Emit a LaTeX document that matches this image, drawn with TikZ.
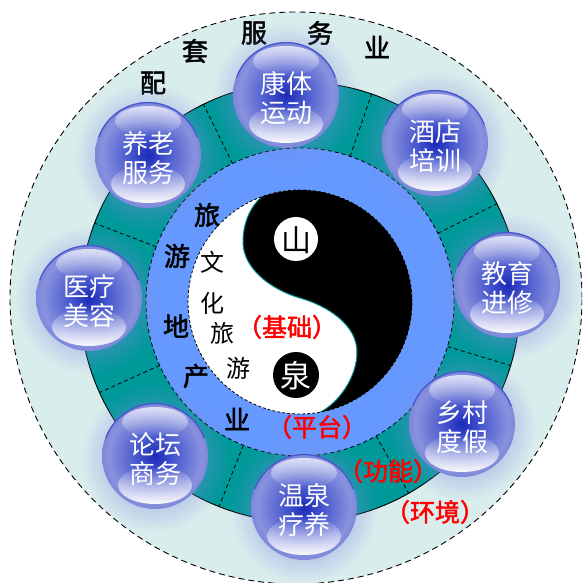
\documentclass[tikz,border=0pt]{standalone}
\usepackage{fontspec}
\newfontfamily\cjk{Noto Sans CJK SC}
\newfontfamily\cjkb[FakeBold=2]{Noto Sans CJK SC}
\usetikzlibrary{fadings,calc}
\definecolor{lightbg}{HTML}{DAEDED}
\definecolor{tealring}{HTML}{009999}
\definecolor{bluering}{HTML}{6699FF}
\definecolor{bubdark}{HTML}{1B2AB8}
\definecolor{bubmid}{HTML}{4858CE}
\definecolor{bublight}{HTML}{8892DE}
\definecolor{glowc}{HTML}{7F8CE0}
\definecolor{sline}{HTML}{008B8B}
\definecolor{rimc}{HTML}{2C3CC8}
\pgfdeclareradialshading{bubshade}{\pgfpointorigin}{color(0bp)=(bubdark); color(9bp)=(bubmid); color(22bp)=(bublight); color(25bp)=(bublight!90!bubdark); color(50bp)=(bublight)}
\tikzfading[name=glowfade, inner color=transparent!0, outer color=transparent!100]
\tikzfading[name=hltop, top color=transparent!10, bottom color=transparent!100]
\tikzfading[name=hlbot, top color=transparent!100, bottom color=transparent!0]
\tikzset{
  bubtext/.style={text=white, align=center, inner sep=0pt, font=\cjk\fontsize{26}{29}\selectfont},
  ringword/.style={inner sep=0pt, font=\cjkb\fontsize{26}{28}\selectfont},
  songword/.style={inner sep=0pt, font=\cjk\fontsize{24}{26}\selectfont},
  redword/.style={inner sep=0pt, text=red, font=\cjkb\fontsize{25}{27}\selectfont},
  sepline/.style={dash pattern=on 4pt off 3pt, line width=0.8pt},
}
\newcommand\bub[4]{%
  \begin{scope}[shift={(#2)}]
    \fill[glowc, path fading=glowfade] (0,-2) circle (74);
    \shade[shading=bubshade] (0,0) circle (53);
    \draw[rimc, line width=1.2pt, opacity=0.7] (20:52.4) arc[start angle=20, end angle=160, radius=52.4];
    \fill[white, opacity=0.8, path fading=hltop] (0,34) ellipse (33 and 15);
    \fill[white, opacity=0.95, path fading=hlbot] (0,-29) ellipse (37 and 19);
    \node[bubtext] (#1) at (0,-3) {#3\\#4};
  \end{scope}%
}
\begin{document}
\begin{tikzpicture}[x=1pt,y=1pt]
\useasboundingbox (0,0) rectangle (582,583);
\clip (0,0) rectangle (582,583);
\coordinate (C) at (300,281);
\coordinate (O) at (296,285);
% outer light ring
\fill[lightbg] (O) circle (286);
\draw[dash pattern=on 6pt off 4pt, line width=0.9pt] (O) circle (286);
% teal ring
\fill[tealring] (C) circle (220);
\draw[line width=0.9pt] (C) circle (220);
\foreach \a in {116,71,26.5,-16.8,-60.4,-111.6,-155.7,159}
  \draw[sepline] (C) ++(\a:154) -- ++(\a:66);
% blue ring
\fill[bluering] (C) circle (154);
\draw[sepline] (C) circle (154);
% yin-yang
\fill[white] (C) circle (112);
\path (C) ++(110:112) coordinate (T);
\path (C) ++(-79.5:112) coordinate (B);
\coordinate (L) at (243,341);
\coordinate (M) at (300,285);
\coordinate (R) at (357,231);
\fill[black] (T) .. controls (252,378) and (243,362) .. (L)
  .. controls (243,314) and (272,293) .. (M)
  .. controls (328,277) and (357,258) .. (R)
  .. controls (357,205) and (338,180) .. (B)
  arc[start angle=-79.5, end angle=110, radius=112] -- cycle;
\draw[sline, line width=1pt] (T) .. controls (252,378) and (243,362) .. (L)
  .. controls (243,314) and (272,293) .. (M)
  .. controls (328,277) and (357,258) .. (R)
  .. controls (357,205) and (338,180) .. (B);
\draw[dash pattern=on 3pt off 2pt, line width=0.8pt] (C) circle (112);
\fill[white] (296,344) circle (22);
\fill[black] (296,208) circle (23);
\node[inner sep=0pt, font=\cjk\fontsize{30}{30}\selectfont] (shan) at (296,343) {山};
\node[inner sep=0pt, text=white, font=\cjk\fontsize{31}{31}\selectfont] (quan) at (296,207) {泉};
% ring words
\node[ringword] (pei) at (153,500) {配};
\node[ringword] (tao) at (195,532) {套};
\node[ringword] (fu) at (254,550) {服};
\node[ringword] (wu) at (320,550) {务};
\node[ringword] (ye1) at (377,536) {业};
\node[ringword] (lv1) at (207,368) {旅};
\node[ringword] (you1) at (177,327) {游};
\node[ringword] (di) at (176,257) {地};
\node[ringword] (chan) at (196,207) {产};
\node[ringword] (ye2) at (237,164) {业};
\node[songword] (wen) at (212,321) {文};
\node[songword] (hua) at (212,280) {化};
\node[songword] (lv2) at (222,250) {旅};
\node[songword] (you2) at (238,215) {游};
% bubbles
\bub{kangti}{286,488}{康体}{运动}
\bub{jiudian}{435,440}{酒店}{培训}
\bub{jiaoyu}{507,298}{教育}{进修}
\bub{xiangcun}{462,159}{乡村}{度假}
\bub{wenquan}{304,76}{温泉}{疗养}
\bub{luntan}{155,127}{论坛}{商务}
\bub{yiliao}{89,285}{医疗}{美容}
\bub{yanglao}{148,428}{养老}{服务}
% red labels
\node[redword] (jichu) at (287,256) {（基础）};
\node[redword] (pingtai) at (317,156) {（平台）};
\node[redword] (gongneng) at (388,112) {（功能）};
\node[redword] (huanjing) at (435,71) {（环境）};
\end{tikzpicture}
\end{document}
